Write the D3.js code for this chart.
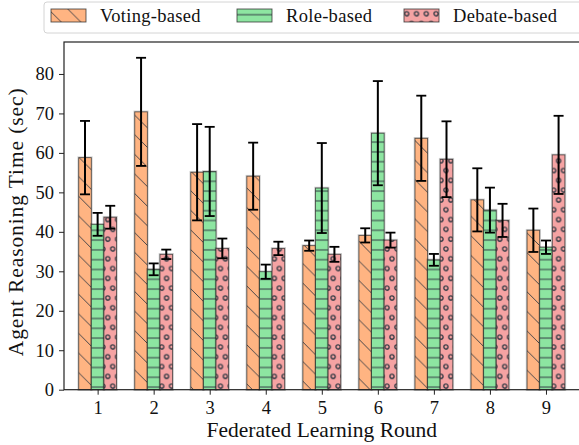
<!DOCTYPE html>
<html>
<head>
<meta charset="utf-8">
<script src="https://cdn.jsdelivr.net/npm/d3@7"></script>
<style>
  html, body { margin: 0; padding: 0; background: #fff; }
  svg { display: block; font-family: "Liberation Serif", "DejaVu Serif", serif; }
</style>
</head>
<body>
<svg id="chart" width="579" height="445"></svg>
<script>
(function() {
  'use strict';

  // Data
  const rounds = [1, 2, 3, 4, 5, 6, 7, 8, 9];
  const voting    = [58.8, 70.4, 55.1, 54.1, 36.5, 39.1, 63.7, 48.1, 40.4];
  const votingErr = [9.3, 13.7, 12.2, 8.5, 1.3, 1.8, 10.8, 8.0, 5.5];
  const role      = [41.9, 30.5, 55.3, 29.9, 51.1, 65.0, 32.9, 45.5, 36.1];
  const roleErr   = [2.9, 1.5, 11.3, 1.8, 11.4, 13.2, 1.5, 5.7, 1.7];
  const debate    = [43.7, 34.3, 35.8, 35.8, 34.3, 37.9, 58.4, 42.9, 59.5];
  const debateErr = [2.9, 1.2, 2.5, 1.7, 1.9, 1.9, 9.6, 4.2, 9.9];
  const yTicks = [0, 10, 20, 30, 40, 50, 60, 70, 80];
  const seriesNames = ['Voting-based', 'Role-based', 'Debate-based'];

  const series = [
    { name: seriesNames[0], values: voting, err: votingErr, color: '#ffb482', hatch: 'hatch-diag' },
    { name: seriesNames[1], values: role,   err: roleErr,   color: '#8de5a1', hatch: 'hatch-horiz' },
    { name: seriesNames[2], values: debate, err: debateErr, color: '#f5a3a3', hatch: 'hatch-circ' }
  ];

  const svg = d3.select('#chart');
  const left = 64, right = 579.6, top = 42, bottom = 389.7;
  const barW = 0.225;

  const x = d3.scaleLinear().domain([0.4, 9.6]).range([left, right]);
  const y = d3.scaleLinear().domain([0, 88.1]).range([bottom, top]);

  // Hatch patterns
  const defs = svg.append('defs');
  const hatchColor = '#333a44';
  const dS = 19.6;
  const pd = defs.append('pattern').attr('id', 'hatch-diag')
    .attr('patternUnits', 'userSpaceOnUse').attr('width', dS).attr('height', dS);
  pd.append('path')
    .attr('d', `M0,0L${dS},${dS}M${-dS / 2},${dS / 2}L${dS / 2},${dS * 1.5}M${dS / 2},${-dS / 2}L${dS * 1.5},${dS / 2}`)
    .attr('stroke', hatchColor).attr('stroke-width', 0.9).attr('fill', 'none');

  const hS = 9.8;
  const ph = defs.append('pattern').attr('id', 'hatch-horiz')
    .attr('patternUnits', 'userSpaceOnUse').attr('width', 20).attr('height', hS);
  ph.append('path').attr('d', `M0,${hS / 2}H20`)
    .attr('stroke', hatchColor).attr('stroke-width', 1).attr('fill', 'none');

  const pc = defs.append('pattern').attr('id', 'hatch-circ')
    .attr('patternUnits', 'userSpaceOnUse').attr('width', hS).attr('height', hS * 2);
  [[0, 0], [hS, 0], [0, hS * 2], [hS, hS * 2], [hS / 2, hS]].forEach(([cx, cy]) => {
    pc.append('circle').attr('cx', cx).attr('cy', cy + 4).attr('r', 2.1)
      .attr('fill', 'none').attr('stroke', hatchColor).attr('stroke-width', 1.3);
  });

  // Bars
  const plot = svg.append('g');
  series.forEach((s, si) => {
    const off = (si - 1) * barW;
    const g = plot.append('g');
    const data = rounds.map((r, i) => ({ r, v: s.values[i], e: s.err[i] }));
    const bx = d => x(d.r + off - barW / 2);
    const bw = x(barW) - x(0);

    // soft halo
    g.selectAll('rect.halo').data(data).enter().append('rect')
      .attr('x', bx).attr('y', d => y(d.v)).attr('width', bw).attr('height', d => y(0) - y(d.v))
      .attr('fill', 'none').attr('stroke', 'rgba(0,0,0,0.18)').attr('stroke-width', 2.6);
    g.selectAll('rect.fill').data(data).enter().append('rect')
      .attr('x', bx).attr('y', d => y(d.v)).attr('width', bw).attr('height', d => y(0) - y(d.v))
      .attr('fill', s.color);
    g.selectAll('rect.hatch').data(data).enter().append('rect')
      .attr('x', bx).attr('y', d => y(d.v)).attr('width', bw).attr('height', d => y(0) - y(d.v))
      .attr('fill', `url(#${s.hatch})`);
    g.selectAll('rect.edge').data(data).enter().append('rect')
      .attr('x', bx).attr('y', d => y(d.v)).attr('width', bw).attr('height', d => y(0) - y(d.v))
      .attr('fill', 'none').attr('stroke', 'rgba(40,40,40,0.75)').attr('stroke-width', 0.9);
  });

  // Error bars
  series.forEach((s, si) => {
    const off = (si - 1) * barW;
    const g = plot.append('g').attr('stroke', '#000');
    rounds.forEach((r, i) => {
      const cx = x(r + off);
      const lo = y(s.values[i] - s.err[i]), hi = y(s.values[i] + s.err[i]);
      g.append('line').attr('x1', cx).attr('x2', cx).attr('y1', lo).attr('y2', hi).attr('stroke-width', 2);
      g.append('line').attr('x1', cx - 5).attr('x2', cx + 5).attr('y1', lo).attr('y2', lo).attr('stroke-width', 1.8);
      g.append('line').attr('x1', cx - 5).attr('x2', cx + 5).attr('y1', hi).attr('y2', hi).attr('stroke-width', 1.8);
    });
  });

  // Axes
  const xAxis = svg.append('g').attr('transform', `translate(0,${bottom})`)
    .call(d3.axisBottom(x).tickValues(rounds).tickFormat(d3.format('d')).tickSize(5).tickPadding(6));
  const yAxis = svg.append('g').attr('transform', `translate(${left},0)`)
    .call(d3.axisLeft(y).tickValues(yTicks).tickSize(5).tickPadding(5));
  [xAxis, yAxis].forEach(a => {
    a.select('.domain').remove();
    a.selectAll('line').attr('stroke', '#222').attr('stroke-width', 1);
    a.selectAll('text').attr('font-family', '"Liberation Serif", serif').attr('font-size', 18.5).attr('fill', '#111');
  });

  // Frame
  svg.append('rect').attr('x', left).attr('y', top).attr('width', right - left).attr('height', bottom - top)
    .attr('fill', 'none').attr('stroke', '#222').attr('stroke-width', 1.2);

  // Axis labels
  svg.append('text').attr('x', (left + right) / 2).attr('y', 437)
    .attr('text-anchor', 'middle').attr('font-size', 21.5).attr('fill', '#111')
    .text('Federated Learning Round');
  svg.append('text').attr('transform', `translate(23,${(top + bottom) / 2 + 6}) rotate(-90)`)
    .attr('text-anchor', 'middle').attr('font-size', 21.5).attr('letter-spacing', 0.9).attr('fill', '#111')
    .text('Agent Reasoning Time (sec)');

  // Legend
  const leg = svg.append('g');
  leg.append('rect').attr('x', 44).attr('y', 2).attr('width', 560).attr('height', 31).attr('rx', 3)
    .attr('fill', '#fff').attr('stroke', '#d4d4d4').attr('stroke-width', 1);
  const legX = [51, 237, 404];
  series.forEach((s, i) => {
    const gx = legX[i];
    leg.append('rect').attr('x', gx).attr('y', 9).attr('width', 35).attr('height', 13).attr('fill', s.color);
    leg.append('rect').attr('x', gx).attr('y', 9).attr('width', 35).attr('height', 13).attr('fill', `url(#${s.hatch})`);
    leg.append('rect').attr('x', gx).attr('y', 9).attr('width', 35).attr('height', 13)
      .attr('fill', 'none').attr('stroke', 'rgba(40,40,40,0.8)').attr('stroke-width', 0.9);
    leg.append('text').attr('x', gx + 49).attr('y', 22).attr('font-size', 18.5).attr('letter-spacing', 0.3)
      .attr('fill', '#111').text(s.name);
  });
})();
</script>
</body>
</html>
